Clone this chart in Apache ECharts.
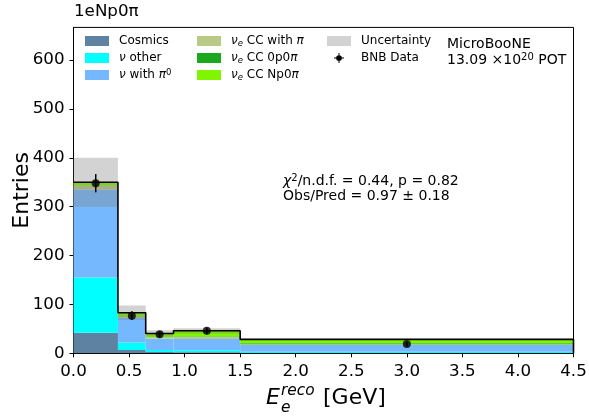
<!DOCTYPE html>
<html><head><meta charset="utf-8">
<script src="https://cdn.jsdelivr.net/npm/echarts@6/dist/echarts.min.js"></script>
<style>html,body{margin:0;padding:0;background:#fff}#c{width:589px;height:416px}</style>
</head><body><div id="c"></div>
<script>
// ---- data ----
const binEdges    = [0, 0.4, 0.65, 0.9, 1.5, 4.5];
const cosmics     = [42, 7, 2.5, 2, 0.5];
const nuOther     = [113, 15, 4, 4, 2.5];
const nuPi0       = [180, 50, 24, 23, 14];
const nueCCpi     = [7, 3, 2, 5, 1.5];
const nue0p0pi    = [1, 1, 0.5, 1, 2];
const nueNp0pi    = [7, 7, 7.5, 11, 8];
const uncertainty = [50, 15, 6.5, 5.5, 1.5];
const dataY       = [348, 77, 39, 46, 19];
const dataErr     = [18.7, 8.8, 6.2, 6.8, 4.4];
const xTicks = [0, 0.5, 1, 1.5, 2, 2.5, 3, 3.5, 4, 4.5];
const yTicks = [0, 100, 200, 300, 400, 500, 600];
const layerNames = ['Cosmics', 'ν other', 'ν with π⁰', 'νe CC with π', 'νe CC 0p0π', 'νe CC Np0π'];
const layerValues = [cosmics, nuOther, nuPi0, nueCCpi, nue0p0pi, nueNp0pi];
const layerColors = ['#5e82a2', '#00ffff', '#76b8fd', '#b8ca86', '#1aa81e', '#80f500'];

const FONT = 'DejaVu Sans';
const nBins = binEdges.length - 1;

// cumulative stack
const cum = new Array(nBins).fill(0);
const stackSeries = layerValues.map((vals, li) => {
  const data = [];
  for (let j = 0; j < nBins; j++) {
    const b = cum[j];
    cum[j] += vals[j];
    data.push([binEdges[j], binEdges[j + 1], b, cum[j]]);
  }
  return {
    name: layerNames[li], type: 'custom', z: 2, clip: true,
    itemStyle: { color: layerColors[li] },
    data,
    renderItem: rectRender
  };
});
const totals = cum.slice();

function rectRender(params, api) {
  const p0 = api.coord([api.value(0), api.value(3)]);
  const p1 = api.coord([api.value(1), api.value(2)]);
  return { type: 'rect', shape: { x: p0[0], y: p0[1], width: p1[0] - p0[0], height: p1[1] - p0[1] },
           style: { fill: api.visual('color') } };
}

const bandData = totals.map((t, j) => [binEdges[j], binEdges[j + 1], t - uncertainty[j], t + uncertainty[j]]);
const stepData = [];
for (let j = 0; j < nBins; j++) { stepData.push([binEdges[j], totals[j]]); stepData.push([binEdges[j + 1], totals[j]]); }
stepData.push([binEdges[nBins], 0]);
const centers = binEdges.slice(0, -1).map((e, j) => (e + binEdges[j + 1]) / 2);
const pointData = centers.map((c, j) => [c, dataY[j]]);
const errData = centers.map((c, j) => [c, dataY[j] - dataErr[j], dataY[j] + dataErr[j]]);

const legendRich = {
  i: { fontFamily: FONT, fontSize: 12, fontStyle: 'italic', lineHeight: 14, color: '#000' },
  s: { fontFamily: FONT, fontSize: 8.5, fontStyle: 'italic', lineHeight: 8, verticalAlign: 'bottom', color: '#000' },
  u: { fontFamily: FONT, fontSize: 8.5, lineHeight: 8, verticalAlign: 'top', color: '#000' },
  t: { fontFamily: FONT, fontSize: 12, lineHeight: 14, color: '#000' }
};
function fmtName(n) {
  if (n === 'ν other') return '{i|ν}{t| other}';
  if (n === 'ν with π⁰') return '{i|ν}{t| with }{i|π}{u|0}';
  if (n === 'νe CC with π') return '{i|ν}{s|e}{t| CC with }{i|π}';
  if (n === 'νe CC 0p0π') return '{i|ν}{s|e}{t| CC 0p0}{i|π}';
  if (n === 'νe CC Np0π') return '{i|ν}{s|e}{t| CC Np0}{i|π}';
  return '{t|' + n + '}';
}
const legendBase = {
  orient: 'vertical', top: 34, padding: 0, itemGap: 3, itemWidth: 24, itemHeight: 10, icon: 'rect',
  selectedMode: false, formatter: fmtName,
  textStyle: { fontFamily: FONT, fontSize: 12, lineHeight: 14, color: '#000', padding: [0, 0, 0, 5], rich: legendRich }
};
const bnbIcon = 'path://M6.3,0H7.7V14H6.3Z M0,6.3H14V7.7H0Z M11,7A4,4,0,1,1,3,7A4,4,0,1,1,11,7Z';

const chart = echarts.init(document.getElementById('c'), null, { renderer: 'canvas' });
chart.setOption({
  animation: false,
  backgroundColor: '#fff',
  grid: { left: 73.5, top: 27.4, width: 500, height: 325.9, show: true, borderColor: '#000', borderWidth: 1,
          backgroundColor: 'transparent', containLabel: false, outerBoundsMode: 'none' },
  xAxis: {
    type: 'value', min: 0, max: 4.5, interval: 0.5,
    axisLine: { show: true, onZero: false, lineStyle: { color: '#000', width: 1 } },
    axisTick: { show: true, length: 4, lineStyle: { color: '#000', width: 1 } },
    axisLabel: { color: '#000', fontFamily: FONT, fontSize: 16.7, margin: 10, hideOverlap: false, formatter: v => Number(v).toFixed(1) },
    splitLine: { show: false }
  },
  yAxis: {
    type: 'value', min: 0, max: 666.7, interval: 100,
    name: 'Entries', nameLocation: 'middle', nameGap: 40, nameRotate: 90, nameMoveOverlap: false,
    nameTextStyle: { fontFamily: FONT, fontSize: 22, color: '#000' },
    axisLine: { show: true, lineStyle: { color: '#000', width: 1 } },
    axisTick: { show: true, length: 4, lineStyle: { color: '#000', width: 1 }, customValues: yTicks },
    axisLabel: { color: '#000', fontFamily: FONT, fontSize: 16.7, margin: 9, customValues: yTicks,
                 formatter: v => (Math.abs(v % 100) < 1e-6 ? String(v) : '') },
    splitLine: { show: false }
  },
  legend: [
    Object.assign({}, legendBase, { left: 85, data: layerNames.slice(0, 3) }),
    Object.assign({}, legendBase, { left: 197, data: layerNames.slice(3, 6) }),
    Object.assign({}, legendBase, { left: 327, data: ['Uncertainty', { name: 'BNB Data', icon: bnbIcon }] })
  ],
  graphic: [
    { type: 'text', left: 74, top: 3, style: { text: '1eNp0π', fontFamily: FONT, fontSize: 16.7, fill: '#000' } },
    { type: 'text', x: 447, y: 44.5, style: { text: 'MicroBooNE', fontFamily: FONT, fontSize: 14, fill: '#000', verticalAlign: 'middle' } },
    { type: 'text', x: 447, y: 60.5, style: { text: '{t|13.09 ×10}{u|20}{t| POT}', verticalAlign: 'middle',
        rich: { t: { fontFamily: FONT, fontSize: 14, lineHeight: 16, fill: '#000' },
                u: { fontFamily: FONT, fontSize: 10, lineHeight: 9, verticalAlign: 'top', fill: '#000' } } } },
    { type: 'text', x: 283, y: 181, style: { text: '{i|χ}{u|2}{t|/n.d.f. = 0.44, p = 0.82}', verticalAlign: 'middle',
        rich: { t: { fontFamily: FONT, fontSize: 14, lineHeight: 16, fill: '#000' },
                i: { fontFamily: FONT, fontSize: 14, fontStyle: 'italic', lineHeight: 16, fill: '#000' },
                u: { fontFamily: FONT, fontSize: 10, lineHeight: 9, verticalAlign: 'top', fill: '#000' } } } },
    { type: 'text', x: 283, y: 196, style: { text: 'Obs/Pred = 0.97 ± 0.18', fontFamily: FONT, fontSize: 14, fill: '#000', verticalAlign: 'middle' } },
    { type: 'text', x: 266, y: 398, style: { text: 'E', fontFamily: FONT, fontSize: 22, fontStyle: 'italic', fill: '#000', verticalAlign: 'middle' } },
    { type: 'text', x: 281, y: 391, style: { text: 'reco', fontFamily: FONT, fontSize: 15.4, fontStyle: 'italic', fill: '#000', verticalAlign: 'middle' } },
    { type: 'text', x: 281, y: 408, style: { text: 'e', fontFamily: FONT, fontSize: 15.4, fontStyle: 'italic', fill: '#000', verticalAlign: 'middle' } },
    { type: 'text', x: 323, y: 398, style: { text: '[GeV]', fontFamily: FONT, fontSize: 22, fill: '#000', verticalAlign: 'middle' } }
  ],
  series: stackSeries.concat([
    { name: 'Uncertainty', type: 'custom', z: 3, clip: true, itemStyle: { color: 'rgba(128,128,128,0.35)' },
      data: bandData, renderItem: rectRender },
    { name: 'step', type: 'line', z: 4, data: stepData, showSymbol: false, symbol: 'none', clip: true,
      lineStyle: { color: '#000', width: 1.6 }, silent: true },
    { name: 'BNB Data', type: 'custom', z: 5, itemStyle: { color: '#000' }, data: errData,
      renderItem: (params, api) => {
        const a = api.coord([api.value(0), api.value(1)]);
        const b = api.coord([api.value(0), api.value(2)]);
        return { type: 'line', shape: { x1: a[0], y1: a[1], x2: b[0], y2: b[1] }, style: { stroke: '#000', lineWidth: 1.5 } };
      } },
    { name: 'BNB Data', type: 'scatter', z: 6, data: pointData, symbol: 'circle', symbolSize: 8,
      itemStyle: { color: '#000' } }
  ])
});
</script></body></html>
